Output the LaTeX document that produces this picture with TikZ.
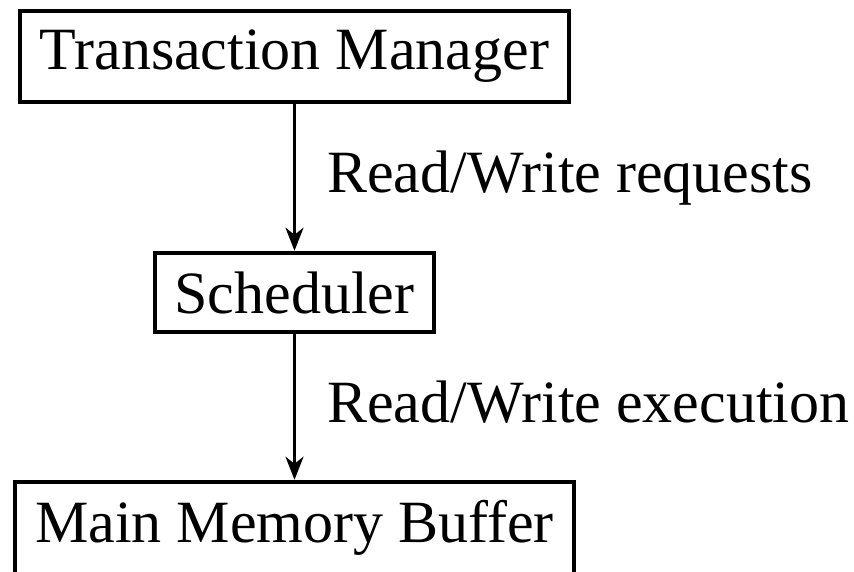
\documentclass[tikz,border=0pt]{standalone}
\usepackage{fontspec}
\setmainfont{Liberation Serif}
\usetikzlibrary{arrows.meta}
\begin{document}
\begin{tikzpicture}[x=1pt,y=1pt,
  box/.style={draw, line width=4.5pt, inner sep=0pt,
              font=\fontsize{60}{72}\selectfont},
  lbl/.style={font=\fontsize{60}{72}\selectfont, inner sep=0pt, anchor=base west},
  flow/.style={line width=3pt, -{Stealth[length=23pt,width=18pt,inset=7pt]}}]
  \useasboundingbox (0,0) rectangle (854,-571);

  % components of the transaction pipeline
  \node[box, minimum width=549pt, minimum height=91pt] (tm)    at (294.5,-56.5)  {Transaction Manager};
  \node[box, minimum width=279pt, minimum height=79pt] (sched) at (294.5,-292.5) {Scheduler};
  % the lowest box runs past the lower edge of the page
  \node[box, minimum width=559pt, minimum height=110pt,
        text height=41pt, text depth=31pt] (buf) at (294.5,-537) {Main Memory Buffer};

  % flow between components
  \draw[flow] (tm.south) -- (sched.north);
  \draw[flow] (sched.south) -- (buf.north);

  % flow labels
  \node[lbl] (req)  at (327,-192) {Read/Write requests};
  \node[lbl] (exec) at (327,-422) {Read/Write execution};
\end{tikzpicture}
\end{document}
